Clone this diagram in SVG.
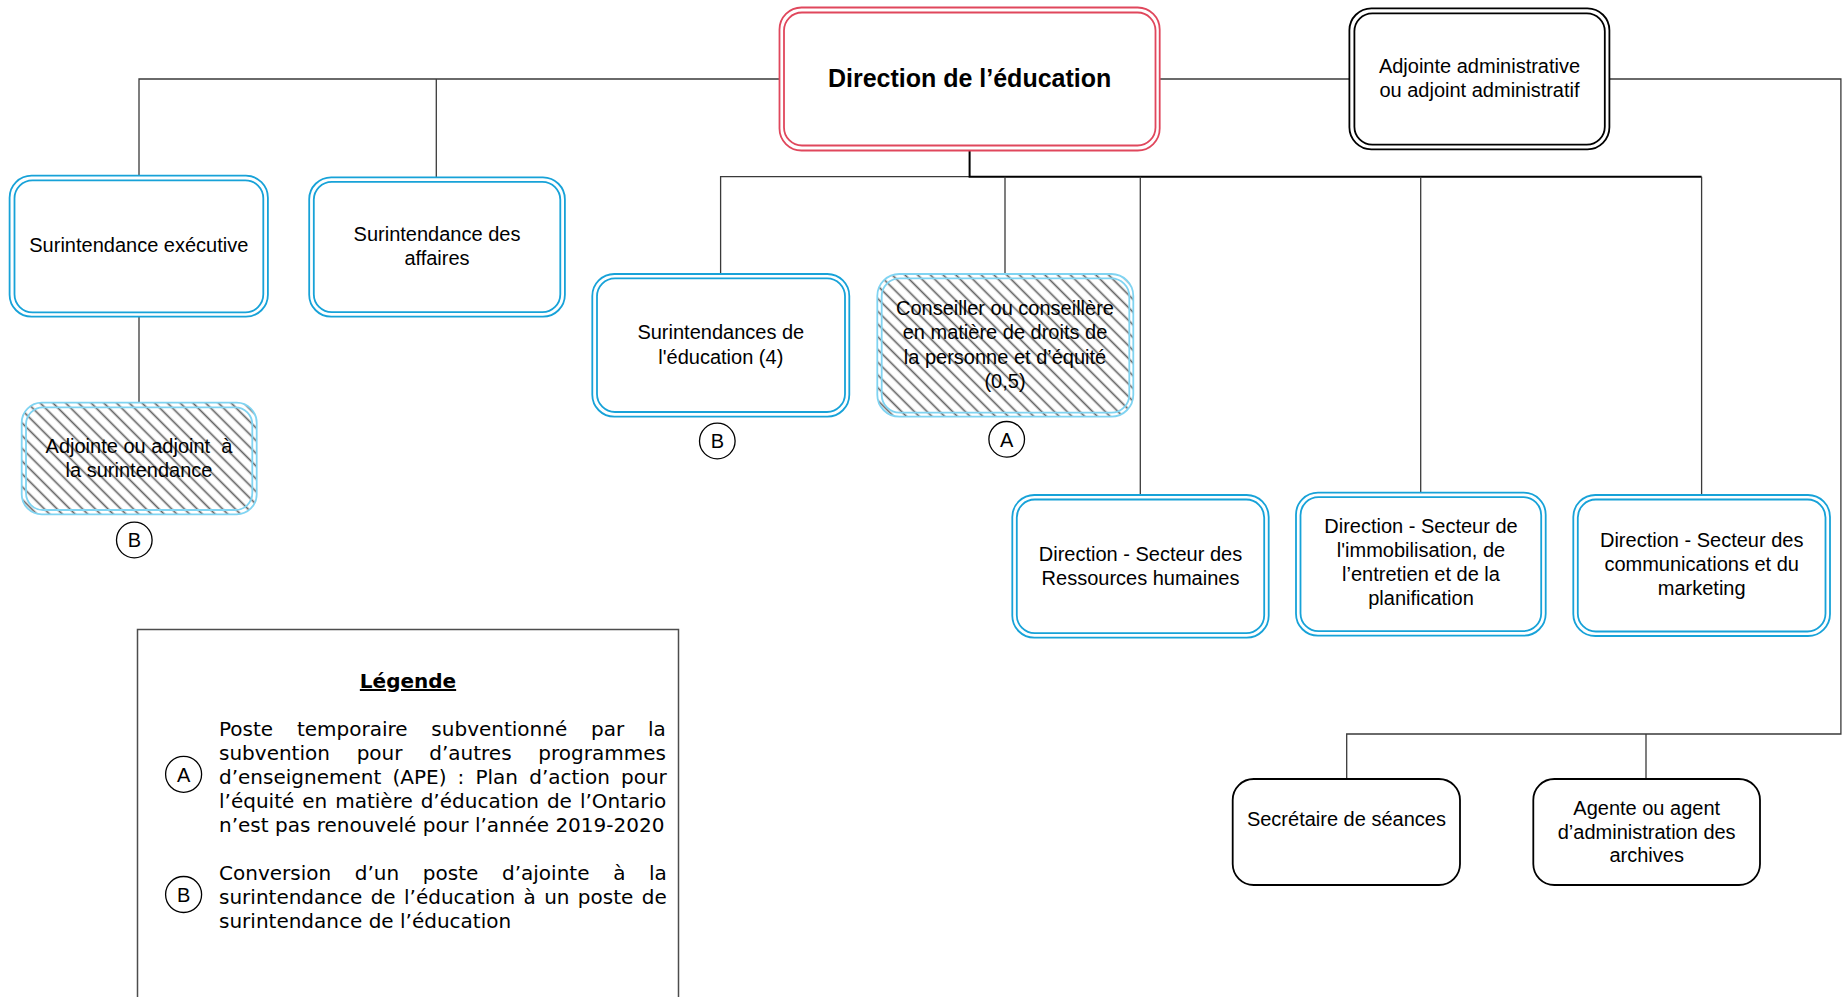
<svg xmlns="http://www.w3.org/2000/svg" width="1845" height="997" viewBox="0 0 1845 997">
<style>
.t{font-family:"Liberation Sans",Arial,sans-serif;font-size:20px;fill:#000;text-anchor:middle}
.tb{font-family:"Liberation Sans",Arial,sans-serif;font-size:25px;font-weight:bold;fill:#000;text-anchor:middle}
.lg{font-family:"DejaVu Sans",Verdana,sans-serif;font-size:20px;fill:#000}
.lgb{font-family:"DejaVu Sans",Verdana,sans-serif;font-size:20px;font-weight:bold;fill:#000;text-anchor:middle;text-decoration:underline}
.blue{fill:none;stroke:#17a2d8;stroke-width:1.8}
.lblue{fill:none;stroke:#80d4f2;stroke-width:1.8}
.red{fill:none;stroke:#e0475c;stroke-width:1.8}
.blk{fill:none;stroke:#000;stroke-width:1.8}
.bg{fill:#fff}
.hatch{fill:url(#hatch)}
.conn{fill:none;stroke:#3a3a3a;stroke-width:1.3}
.connb{fill:none;stroke:#000;stroke-width:2}
.mark{fill:#fff;stroke:#000;stroke-width:1.3}
</style>
<defs>
<pattern id="hatch" patternUnits="userSpaceOnUse" width="9" height="9" patternTransform="rotate(45)">
<rect width="9" height="9" fill="#fff"/>
<line x1="0" y1="4.5" x2="9" y2="4.5" stroke="#9a9a9a" stroke-width="2"/>
<line x1="0" y1="4.5" x2="9" y2="4.5" stroke="#555" stroke-width="0.8"/>
</pattern>
</defs>
<rect width="1845" height="997" fill="#fff"/>

<g id="connectors">
<path class="conn" d="M139,175.7 V79 H779.5"/>
<path class="conn" d="M436.3,79 V177.3"/>
<path class="conn" d="M1159.7,79 H1349.4"/>
<path class="conn" d="M1609.4,79 H1840.9 V734 H1346.7 V779"/>
<path class="conn" d="M1646,734 V779"/>
<path class="conn" d="M139,316.7 V402.7"/>
<path class="conn" d="M969.6,176.7 H720.6 V274"/>
<path class="connb" d="M969.6,150.5 V176.7 H1701.6"/>
<path class="conn" d="M1005,176.7 V274"/>
<path class="conn" d="M1140.3,176.7 V495"/>
<path class="conn" d="M1420.7,176.7 V492.7"/>
<path class="conn" d="M1701.6,176.7 V495"/>
</g>

<g id="direction-education">
<rect class="bg" x="779.5" y="7.5" width="380.2" height="143" rx="22"/>
<rect class="red" x="779.5" y="7.5" width="380.2" height="143" rx="22"/>
<rect class="red" x="784" y="12.5" width="371.5" height="133" rx="18"/>
<text class="tb" x="969.6" y="87">Direction de l’éducation</text>
</g>

<g id="adjointe-administrative">
<rect class="bg" x="1349.4" y="8.3" width="260" height="141" rx="22"/>
<rect class="blk" x="1349.4" y="8.3" width="260" height="141" rx="22"/>
<rect class="blk" x="1354.4" y="13.3" width="250.4" height="131.4" rx="18"/>
<text class="t" x="1479.5" y="72.7">Adjointe administrative</text>
<text class="t" x="1479.5" y="96.7">ou adjoint administratif</text>
</g>

<g id="surintendance-executive">
<rect class="bg" x="9.6" y="175.7" width="258.3" height="141" rx="22"/>
<rect class="blue" x="9.6" y="175.7" width="258.3" height="141" rx="22"/>
<rect class="blue" x="14.5" y="180.3" width="248.8" height="132" rx="18"/>
<text class="t" x="138.8" y="252">Surintendance exécutive</text>
</g>

<g id="surintendance-affaires">
<rect class="bg" x="309.2" y="177.3" width="255.7" height="139.4" rx="22"/>
<rect class="blue" x="309.2" y="177.3" width="255.7" height="139.4" rx="22"/>
<rect class="blue" x="313.8" y="181.8" width="246.5" height="130.4" rx="18"/>
<text class="t" x="437" y="240.7">Surintendance des</text>
<text class="t" x="437" y="264.5">affaires</text>
</g>

<g id="adjointe-surintendance">
<rect class="hatch" x="21.7" y="402.7" width="235" height="111.6" rx="20"/>
<rect class="lblue" x="21.7" y="402.7" width="235" height="111.6" rx="20"/>
<rect class="lblue" x="26" y="407.3" width="226.3" height="102.7" rx="17"/>
<text class="t" x="139" y="453.3" xml:space="preserve">Adjointe ou adjoint  à</text>
<text class="t" x="139" y="476.7">la surintendance</text>
</g>
<g id="marque-b-1">
<circle class="mark" cx="134.3" cy="540" r="17.8"/>
<text class="t" x="134.3" y="547.2">B</text>
</g>

<g id="surintendances-education">
<rect class="bg" x="592.3" y="274" width="257" height="142.7" rx="22"/>
<rect class="blue" x="592.3" y="274" width="257" height="142.7" rx="22"/>
<rect class="blue" x="597" y="278.3" width="248" height="133.7" rx="18"/>
<text class="t" x="720.8" y="339.3">Surintendances de</text>
<text class="t" x="720.8" y="363.8">l'éducation (4)</text>
</g>
<g id="marque-b-2">
<circle class="mark" cx="717.3" cy="441" r="17.8"/>
<text class="t" x="717.3" y="448.2">B</text>
</g>

<g id="conseiller-droits">
<rect class="hatch" x="877.3" y="274" width="256" height="142.7" rx="22"/>
<rect class="lblue" x="877.3" y="274" width="256" height="142.7" rx="22"/>
<rect class="lblue" x="881.7" y="278.3" width="247.6" height="134.4" rx="18"/>
<text class="t" x="1005" y="314.5">Conseiller ou conseillère</text>
<text class="t" x="1005" y="339">en matière de droits de</text>
<text class="t" x="1005" y="363.5">la personne et d’équité</text>
<text class="t" x="1005" y="388">(0,5)</text>
</g>
<g id="marque-a-1">
<circle class="mark" cx="1006.7" cy="439.3" r="17.8"/>
<text class="t" x="1006.7" y="446.5">A</text>
</g>

<g id="direction-rh">
<rect class="bg" x="1012.3" y="495" width="256.4" height="142.7" rx="22"/>
<rect class="blue" x="1012.3" y="495" width="256.4" height="142.7" rx="22"/>
<rect class="blue" x="1016.8" y="499.5" width="247.4" height="133.7" rx="18"/>
<text class="t" x="1140.5" y="560.5">Direction - Secteur des</text>
<text class="t" x="1140.5" y="584.5">Ressources humaines</text>
</g>

<g id="direction-immobilisation">
<rect class="bg" x="1296" y="492.7" width="249.7" height="143" rx="22"/>
<rect class="blue" x="1296" y="492.7" width="249.7" height="143" rx="22"/>
<rect class="blue" x="1300.5" y="497.2" width="240.7" height="134" rx="18"/>
<text class="t" x="1421" y="533.3">Direction - Secteur de</text>
<text class="t" x="1421" y="557.3">l'immobilisation, de</text>
<text class="t" x="1421" y="581.3">l’entretien et de la</text>
<text class="t" x="1421" y="605.3">planification</text>
</g>

<g id="direction-communications">
<rect class="bg" x="1573.3" y="495" width="256.7" height="141" rx="22"/>
<rect class="blue" x="1573.3" y="495" width="256.7" height="141" rx="22"/>
<rect class="blue" x="1577.8" y="499.5" width="247.7" height="132" rx="18"/>
<text class="t" x="1701.7" y="547.3">Direction - Secteur des</text>
<text class="t" x="1701.7" y="571.3">communications et du</text>
<text class="t" x="1701.7" y="595.3">marketing</text>
</g>

<g id="secretaire-seances">
<rect class="bg" x="1232.7" y="779" width="227.3" height="106" rx="21"/>
<rect class="blk" x="1232.7" y="779" width="227.3" height="106" rx="21"/>
<text class="t" x="1346.4" y="825.7">Secrétaire de séances</text>
</g>

<g id="agent-archives">
<rect class="bg" x="1533.3" y="779" width="226.7" height="106" rx="21"/>
<rect class="blk" x="1533.3" y="779" width="226.7" height="106" rx="21"/>
<text class="t" x="1646.7" y="815">Agente ou agent</text>
<text class="t" x="1646.7" y="838.5">d’administration des</text>
<text class="t" x="1646.7" y="862">archives</text>
</g>

<g id="legende">
<path d="M137.5,1000 V629.5 H678.5 V1000" fill="none" stroke="#4d4d4d" stroke-width="1.5"/>
<text class="lgb" x="408" y="688">Légende</text>
<circle class="mark" cx="183.6" cy="774.3" r="18"/>
<text class="t" x="183.6" y="781.5">A</text>
<text class="lg" x="219" y="735.5" word-spacing="17.4">Poste temporaire subventionné par la</text>
<text class="lg" x="219" y="759.5" word-spacing="20.4">subvention pour d’autres programmes</text>
<text class="lg" x="219" y="783.5" word-spacing="4.8">d’enseignement (APE) : Plan d’action pour</text>
<text class="lg" x="219" y="807.5" word-spacing="1.6">l’équité en matière d’éducation de l’Ontario</text>
<text class="lg" x="219" y="831.5">n’est pas renouvelé pour l’année 2019-2020</text>
<circle class="mark" cx="183.6" cy="894.5" r="18"/>
<text class="t" x="183.6" y="901.7">B</text>
<text class="lg" x="219" y="879.5" word-spacing="17.3">Conversion d’un poste d’ajointe à la</text>
<text class="lg" x="219" y="903.5" word-spacing="2">surintendance de l’éducation à un poste de</text>
<text class="lg" x="219" y="927.5">surintendance de l’éducation</text>
</g>
</svg>
